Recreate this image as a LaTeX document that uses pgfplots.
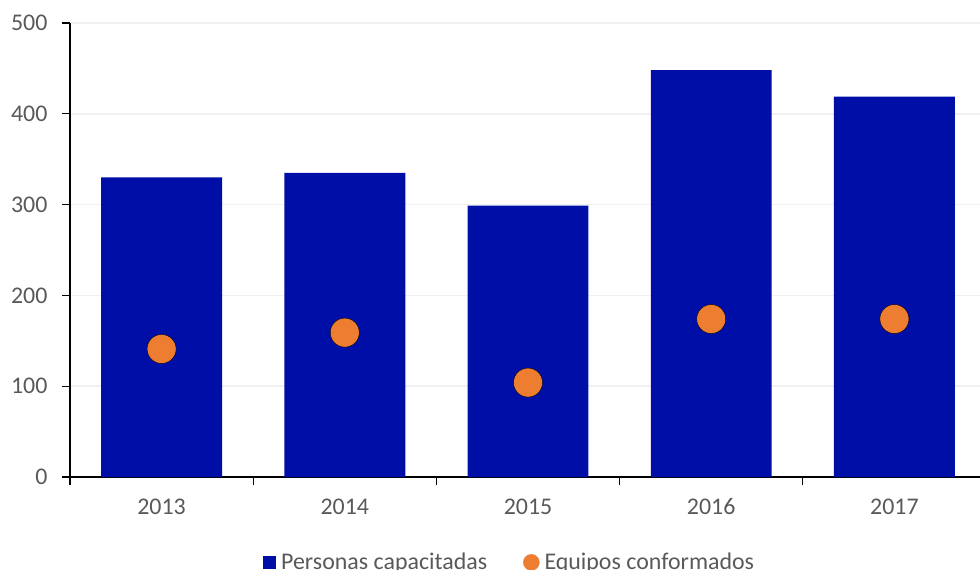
\documentclass[border=0pt]{standalone}
\usepackage{pgfplots}
\pgfplotsset{compat=1.18}
\usepackage{fontspec}
\setmainfont{Carlito}
\definecolor{barblue}{RGB}{0,14,168}
\definecolor{dotorange}{RGB}{237,125,49}
\definecolor{tickgray}{RGB}{89,89,89}
\definecolor{gridgray}{RGB}{240,240,240}
\begin{document}
\begin{tikzpicture}
\useasboundingbox (0,0) rectangle (980bp,570bp);
\begin{axis}[
  at={(70bp,93bp)}, anchor=south west,
  scale only axis, width=916bp, height=454bp,
  xmin=-0.5, xmax=4.5, ymin=0, ymax=500,
  axis x line=bottom, axis y line=left,
  axis line style={-, black, line width=1.6bp},
  xtick={0,1,2,3,4},
  xticklabels={2013,2014,2015,2016,2017},
  minor xtick={-0.5,0.5,1.5,2.5,3.5,4.5},
  ytick={0,100,200,300,400,500},
  tick align=outside,
  major x tick style={draw=none},
  minor x tick style={black, line width=1.2bp},
  y tick style={black, line width=1.2bp},
  major tick length=8bp, minor tick length=8bp,
  ymajorgrids, grid style={gridgray, line width=1.5bp},
  /pgf/number format/assume math mode=true,
  ticklabel style={font=\fontsize{24}{28}\selectfont, text=tickgray},
  yticklabel style={xshift=-11bp},
  xticklabel style={yshift=-10bp},
  legend columns=2,
  legend style={at={(0.48,-0.188)}, anchor=center, draw=none, fill=none,
    font=\fontsize{24}{28}\selectfont, text=tickgray,
    /tikz/every even column/.append style={column sep=34bp}},
  legend cell align=left,
  clip=false,
]
\addplot[ybar, bar width=0.66, fill=barblue, draw=none,
  legend image code/.code={\fill[barblue] (0bp,-6.5bp) rectangle (13bp,6.5bp); \path (16bp,0bp);}]
  coordinates {(0,330) (1,335) (2,299) (3,448) (4,419)};
\addlegendentry{Personas capacitadas}
\addplot[only marks, mark=*, mark size=14.5bp, mark options={fill=dotorange, draw=none},
  legend image code/.code={\fill[dotorange] (8bp,0bp) circle (8bp); \path (19bp,0bp);}]
  coordinates {(0,141) (1,159) (2,104) (3,174) (4,174)};
\addlegendentry{Equipos conformados}
\end{axis}
\end{tikzpicture}
\end{document}
